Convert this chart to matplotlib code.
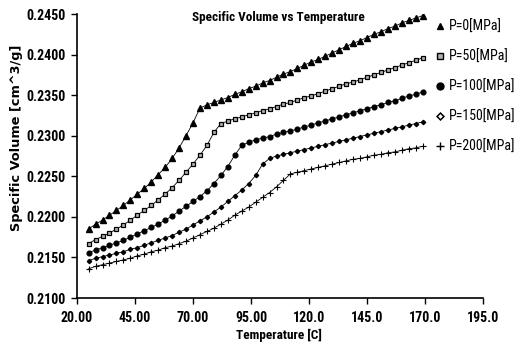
import matplotlib
matplotlib.use("Agg")
import matplotlib.pyplot as plt
from matplotlib import font_manager
from matplotlib.lines import Line2D

# temperature grid [C]
temps = [25, 28, 31, 34, 37, 40, 43, 46, 49, 52, 55, 58, 61, 64, 67, 70, 73,
         76, 79, 82, 85, 88, 91, 94, 97, 100, 103, 106, 109, 112, 115, 118,
         121, 124, 127, 130, 133, 136, 139, 142, 145, 148, 151, 154, 157, 160,
         163, 166, 169]

p0 = [0.2185, 0.2191, 0.2196, 0.2202, 0.2208, 0.2214, 0.2221, 0.2228, 0.2235,
      0.2243, 0.2252, 0.2261, 0.2272, 0.2285, 0.2300, 0.2316, 0.2334, 0.2338,
      0.2341, 0.2344, 0.2347, 0.2351, 0.2354, 0.2358, 0.2361, 0.2365, 0.2368,
      0.2372, 0.2376, 0.2379, 0.2383, 0.2387, 0.2391, 0.2394, 0.2398, 0.2402,
      0.2406, 0.2410, 0.2414, 0.2417, 0.2421, 0.2425, 0.2428, 0.2432, 0.2435,
      0.2439, 0.2442, 0.2445, 0.2448]

p50 = [0.2167, 0.2172, 0.2176, 0.2180, 0.2185, 0.2190, 0.2196, 0.2202, 0.2208,
       0.2214, 0.2221, 0.2228, 0.2236, 0.2245, 0.2255, 0.2265, 0.2276, 0.2288,
       0.2304, 0.2315, 0.2318, 0.2321, 0.2323, 0.2326, 0.2328, 0.2331, 0.2333,
       0.2336, 0.2339, 0.2341, 0.2344, 0.2347, 0.2349, 0.2352, 0.2355, 0.2358,
       0.2361, 0.2364, 0.2366, 0.2369, 0.2372, 0.2375, 0.2378, 0.2381, 0.2384,
       0.2387, 0.2390, 0.2393, 0.2396]

p100 = [0.2156, 0.2159, 0.2162, 0.2165, 0.2168, 0.2171, 0.2175, 0.2179, 0.2183,
        0.2187, 0.2191, 0.2196, 0.2201, 0.2207, 0.2213, 0.2219, 0.2225, 0.2232,
        0.2241, 0.2251, 0.2262, 0.2276, 0.2288, 0.2292, 0.2295, 0.2297, 0.2299,
        0.2302, 0.2304, 0.2306, 0.2308, 0.2311, 0.2313, 0.2316, 0.2318, 0.2321,
        0.2323, 0.2326, 0.2328, 0.2331, 0.2333, 0.2336, 0.2338, 0.2341, 0.2343,
        0.2346, 0.2349, 0.2351, 0.2354]

p150 = [0.2146, 0.2149, 0.2151, 0.2153, 0.2155, 0.2157, 0.2160, 0.2162, 0.2165,
        0.2168, 0.2171, 0.2174, 0.2177, 0.2181, 0.2185, 0.2190, 0.2195, 0.2200,
        0.2206, 0.2212, 0.2219, 0.2226, 0.2233, 0.2241, 0.2251, 0.2265, 0.2272,
        0.2275, 0.2277, 0.2279, 0.2281, 0.2283, 0.2285, 0.2287, 0.2289, 0.2291,
        0.2293, 0.2295, 0.2297, 0.2299, 0.2301, 0.2303, 0.2305, 0.2307, 0.2309,
        0.2311, 0.2313, 0.2315, 0.2317]

p200 = [0.2136, 0.2139, 0.2141, 0.2143, 0.2145, 0.2147, 0.2149, 0.2152, 0.2154,
        0.2157, 0.2159, 0.2162, 0.2164, 0.2167, 0.2170, 0.2174, 0.2178, 0.2182,
        0.2186, 0.2191, 0.2196, 0.2202, 0.2207, 0.2212, 0.2218, 0.2224, 0.2230,
        0.2237, 0.2245, 0.2253, 0.2255, 0.2257, 0.2259, 0.2261, 0.2263, 0.2265,
        0.2267, 0.2269, 0.2271, 0.2272, 0.2274, 0.2276, 0.2277, 0.2279, 0.2280,
        0.2282, 0.2284, 0.2285, 0.2287]

labels = ["P=0[MPa]", "P=50[MPa]", "P=100[MPa]", "P=150[MPa]", "P=200[MPa]"]
xticks = [20, 45, 70, 95, 120, 145, 170, 195]
xticklabels = ["20.00", "45.00", "70.00", "95.00", "120.0", "145.0", "170.0", "195.0"]
yticks = [0.2100, 0.2150, 0.2200, 0.2250, 0.2300, 0.2350, 0.2400, 0.2450]

# pick a narrow face if one is installed
installed = {f.name for f in font_manager.fontManager.ttflist}
narrow_face = "Roboto"
for cand in ["Liberation Sans Narrow", "DejaVu Sans Condensed", "Roboto Condensed"]:
    if cand in installed:
        narrow_face = cand
        break
narrow = [narrow_face, "DejaVu Sans"]

fig = plt.figure(figsize=(5.25, 3.45), dpi=100)
ax = fig.add_axes([77 / 525, 1 - 298 / 345, 406 / 525, 284 / 345])

styles = [
    dict(marker="^", ms=3.8, mfc="k", mec="k"),
    dict(marker="s", ms=3.4, mfc="#b0b0b0", mec="k", mew=0.9),
    dict(marker="o", ms=3.4, mfc="k", mec="k"),
    dict(marker="D", ms=2.2, mfc="k", mec="k"),
    dict(marker="+", ms=4.8, mfc="k", mec="k", mew=0.8),
]
for vals, st in zip([p0, p50, p100, p150, p200], styles):
    ax.plot(temps, vals, color="k", lw=0.6, **st)

ax.set_xlim(20, 195)
ax.set_ylim(0.2100, 0.2450)
ax.set_xticks(xticks)
ax.set_xticklabels(xticklabels)
ax.set_yticks(yticks)
ax.set_yticklabels(["%.4f" % v for v in yticks])
for lab in ax.get_xticklabels() + ax.get_yticklabels():
    lab.set_family(narrow)
    lab.set_fontweight("bold")
    lab.set_fontsize(10)
ax.tick_params(direction="out", length=4, width=1)
ax.tick_params(axis="x", pad=5)
ax.tick_params(axis="y", pad=4)
ax.spines["top"].set_visible(False)
ax.spines["right"].set_visible(False)
ax.spines["left"].set_linewidth(1.2)
ax.spines["bottom"].set_linewidth(1.2)

fig.text(278 / 525, 1 - 17 / 345, "Specific Volume vs Temperature", ha="center",
         va="center", family=narrow, fontweight="bold", fontsize=9.5)
fig.text(279 / 525, 1 - 335 / 345, "Temperature [C]", ha="center", va="center",
         family=narrow, fontweight="bold", fontsize=9.5)
fig.text(17 / 525, 1 - 138 / 345, "Specific Volume [cm^3/g]", ha="center",
         va="center", rotation=90, family="DejaVu Sans", fontweight="bold",
         fontsize=9.3)

# legend with markers only
handles = [
    Line2D([], [], ls="none", marker="^", ms=5, color="k"),
    Line2D([], [], ls="none", marker="s", ms=4.5, mfc="#b0b0b0", mec="k", mew=1),
    Line2D([], [], ls="none", marker="o", ms=5, color="k"),
    Line2D([], [], ls="none", marker="D", ms=3.5, mfc="white", mec="k", mew=1.1),
    Line2D([], [], ls="none", marker="+", ms=6, color="k", mew=1),
]
leg = fig.legend(handles, labels, loc="upper left", bbox_to_anchor=(434 / 525, 1 - 20 / 345),
                 frameon=False, handlelength=0.8, handletextpad=0.3, borderaxespad=0,
                 borderpad=0, labelspacing=1.15, prop={"family": narrow, "size": 10})

fig.savefig("out.png", dpi=100)
